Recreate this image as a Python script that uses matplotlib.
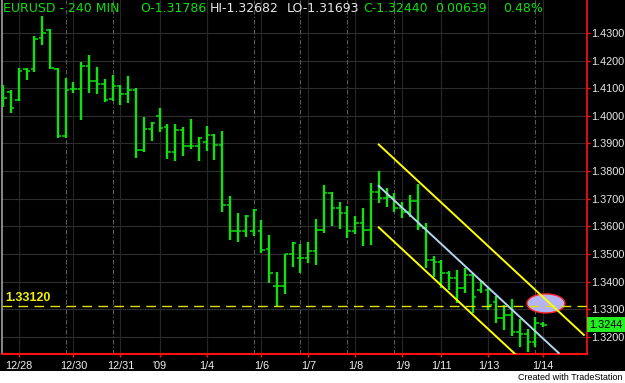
import matplotlib
matplotlib.use("Agg")
import matplotlib.pyplot as plt
from matplotlib.patches import Ellipse, Rectangle
from matplotlib.transforms import blended_transform_factory

# EURUSD 240 min bars
opens = [1.4100, 1.4086, 1.4057, 1.4169, 1.4169, 1.4281, 1.4310, 1.4169, 1.3927, 1.4097,
         1.4097, 1.4180, 1.4126, 1.4115, 1.4061, 1.4108, 1.4079, 1.4093, 1.3876, 1.3952,
         1.3999, 1.3959, 1.3869, 1.3948, 1.3890, 1.3890, 1.3905, 1.3930, 1.3894, 1.3677,
         1.3583, 1.3583, 1.3583, 1.3583, 1.3518, 1.3384, 1.3384, 1.3500, 1.3485, 1.3485,
         1.3510, 1.3586, 1.3720, 1.3666, 1.3648, 1.3583, 1.3612, 1.3586, 1.3724, 1.3702,
         1.3706, 1.3666, 1.3652, 1.3691, 1.3594, 1.3478, 1.3471, 1.3431, 1.3413, 1.3376,
         1.3423, 1.3369, 1.3369, 1.3326, 1.3268, 1.3279, 1.3217, 1.3210, 1.3181, 1.3246]
highs = [1.4111, 1.4093, 1.4173, 1.4173, 1.4289, 1.4361, 1.4314, 1.4173, 1.4137, 1.4122,
         1.4195, 1.4220, 1.4176, 1.4133, 1.4147, 1.4111, 1.4144, 1.4100, 1.3995, 1.3977,
         1.4028, 1.3970, 1.3970, 1.3959, 1.3988, 1.3923, 1.3963, 1.3934, 1.3945, 1.3709,
         1.3648, 1.3641, 1.3662, 1.3623, 1.3568, 1.3434, 1.3500, 1.3543, 1.3536, 1.3543,
         1.3626, 1.3749, 1.3724, 1.3688, 1.3673, 1.3637, 1.3666, 1.3757, 1.3800, 1.3738,
         1.3720, 1.3688, 1.3713, 1.3753, 1.3612, 1.3492, 1.3478, 1.3438, 1.3442, 1.3449,
         1.3427, 1.3405, 1.3376, 1.3348, 1.3315, 1.3337, 1.3264, 1.3228, 1.3271, 1.3253]
lows = [1.4032, 1.4010, 1.4053, 1.4129, 1.4158, 1.4256, 1.4169, 1.3919, 1.3919, 1.4082,
        1.3985, 1.4082, 1.4079, 1.4050, 1.4053, 1.4039, 1.4046, 1.3847, 1.3869, 1.3909,
        1.3941, 1.3843, 1.3836, 1.3854, 1.3880, 1.3836, 1.3872, 1.3840, 1.3652, 1.3550,
        1.3543, 1.3561, 1.3565, 1.3503, 1.3395, 1.3312, 1.3355, 1.3452, 1.3431, 1.3467,
        1.3460, 1.3576, 1.3601, 1.3590, 1.3557, 1.3572, 1.3528, 1.3532, 1.3684, 1.3670,
        1.3652, 1.3630, 1.3633, 1.3586, 1.3449, 1.3416, 1.3376, 1.3369, 1.3322, 1.3358,
        1.3286, 1.3358, 1.3297, 1.3250, 1.3224, 1.3203, 1.3163, 1.3145, 1.3163, 1.3235]
closes = [1.4064, 1.4028, 1.4162, 1.4162, 1.4278, 1.4300, 1.4173, 1.3927, 1.4093, 1.4097,
          1.4180, 1.4126, 1.4115, 1.4057, 1.4108, 1.4079, 1.4093, 1.3876, 1.3952, 1.3974,
          1.3956, 1.3869, 1.3948, 1.3890, 1.3890, 1.3919, 1.3930, 1.3894, 1.3677, 1.3583,
          1.3583, 1.3637, 1.3659, 1.3514, 1.3431, 1.3384, 1.3500, 1.3539, 1.3485, 1.3510,
          1.3586, 1.3720, 1.3666, 1.3648, 1.3583, 1.3612, 1.3586, 1.3724, 1.3702, 1.3706,
          1.3666, 1.3652, 1.3691, 1.3601, 1.3478, 1.3471, 1.3431, 1.3413, 1.3376, 1.3423,
          1.3344, 1.3398, 1.3315, 1.3268, 1.3279, 1.3217, 1.3210, 1.3181, 1.3250, 1.3244]

date_labels = ['12/28', '12/30', '12/31', "'09", '1/4', '1/6', '1/7', '1/8', '1/9', '1/11', '1/13', '1/14']
date_bars = [2, 9, 15, 20, 26, 33, 39, 45, 51, 56, 62, 69]
session_bars = [2, 8, 14, 20, 26, 32, 38, 44, 50, 56, 62, 68]
price_ticks = [1.32, 1.33, 1.34, 1.35, 1.36, 1.37, 1.38, 1.39, 1.40, 1.41, 1.42, 1.43]

# regression channel (start bar, end bar) and levels
chan_x = [48, 74.2]
chan_mid = [1.3746, 1.3057]
chan_width = 0.0150
mid_end_bar = 71
support = 1.33120
last_price = 1.3244

BAR_GREEN = '#10e010'

fig = plt.figure(figsize=(6.25, 3.83), dpi=100, facecolor='black')
ax = fig.add_axes([2 / 625, 1 - 354 / 383, 585 / 625, 354 / 383])
ax.set_facecolor('black')
ax.set_xlim(-0.13, 74.6)
ax.set_ylim(1.3138, 1.4419)

# grid
for p in price_ticks:
    ax.axhline(p, color='#2e2e2e', lw=0.8, zorder=0)
for b in session_bars:
    ax.axvline(b, color='#5a5a5a', lw=0.8, ls=(0, (4, 2, 1, 2)), zorder=0)
for b in date_bars:
    ax.axvline(b, color='#262626', lw=0.8, zorder=0)

# ohlc bars
xs = list(range(len(opens)))
ax.vlines(xs, lows, highs, color=BAR_GREEN, lw=1.7, zorder=3)
ax.hlines(opens, [x - 0.45 for x in xs], xs, color=BAR_GREEN, lw=1.1, zorder=3)
ax.hlines(closes, xs, [x + 0.45 for x in xs], color=BAR_GREEN, lw=1.1, zorder=3)

# highlight ellipse
ax.add_patch(Ellipse((69.35, 1.3321), 4.85, 0.0069, facecolor='#b4b4f2',
                     edgecolor='#ff2020', lw=1.0, zorder=2))

# support line
ax.axhline(support, color='#e0e000', lw=1.0, dashes=(7, 4.5), zorder=4)
ax.text(0.3, support + 0.0006, '1.33120', color='#f0f000', fontsize=9,
        fontweight='bold', family='Liberation Sans', va='bottom', ha='left', zorder=5)

# channel
slope = (chan_mid[1] - chan_mid[0]) / (chan_x[1] - chan_x[0])
ax.plot(chan_x, [m + chan_width for m in chan_mid], color='#ffff00', lw=1.4, zorder=4)
ax.plot(chan_x, [m - chan_width for m in chan_mid], color='#ffff00', lw=1.4, zorder=4)
ax.plot([chan_x[0], mid_end_bar], [chan_mid[0], chan_mid[0] + slope * (mid_end_bar - chan_x[0])],
        color='#b0d8f0', lw=1.4, zorder=4)

# axes styling
ax.spines['top'].set_visible(False)
ax.spines['left'].set_color('#a0a0a0')
ax.spines['left'].set_linewidth(1.2)
ax.spines['right'].set_color('#ff1010')
ax.spines['bottom'].set_color('#ff1010')
ax.spines['right'].set_linewidth(1.2)
ax.spines['bottom'].set_linewidth(1.5)

ax.yaxis.tick_right()
ax.set_yticks(price_ticks)
ax.set_yticklabels([f'{p:.4f}' for p in price_ticks])
ax.tick_params(axis='y', colors='#ff1010', labelcolor='#e8e8e8', length=2, width=1,
               pad=1, labelsize=7.8)
ax.set_xticks(date_bars)
ax.set_xticklabels(date_labels)
ax.tick_params(axis='x', colors='#ff1010', labelcolor='#f0f0f0', length=2, width=1,
               pad=3, labelsize=7.8)
for lbl in ax.get_xticklabels() + ax.get_yticklabels():
    lbl.set_family('Liberation Sans')

# last price box
tr = blended_transform_factory(ax.transAxes, ax.transData)
ax.text(1.004, last_price, '1.3244', transform=tr, color='black', fontsize=7.8,
        family='Liberation Sans', va='center', ha='left', zorder=6, clip_on=False,
        bbox=dict(boxstyle='square,pad=0.22', facecolor='#22ee22', edgecolor='none'))

# header
header = [('EURUSD - 240 MIN', 3, '#10e010'), ('O-1.31786', 140, '#10e010'),
          ('HI-1.32682', 210, '#e8e8e8'), ('LO-1.31693', 287, '#e8e8e8'),
          ('C-1.32440', 363, '#10e010'), ('0.00639', 435, '#10e010'),
          ('0.48%', 503, '#10e010')]
for txt, px, col in header:
    fig.text(px / 625, 1 - 9 / 383, txt, color=col, fontsize=9, va='center', ha='left',
             family='DejaVu Sans')

# footer strip
fig.patches.append(Rectangle((0, 0), 1, 12 / 383, transform=fig.transFigure,
                             facecolor='white', edgecolor='none', zorder=10))
fig.text(622 / 625, 6 / 383, 'Created with TradeStation', color='black', fontsize=6.5,
         va='center', ha='right', family='Liberation Sans', zorder=11)

fig.savefig('out.png', dpi=100, facecolor='black')
